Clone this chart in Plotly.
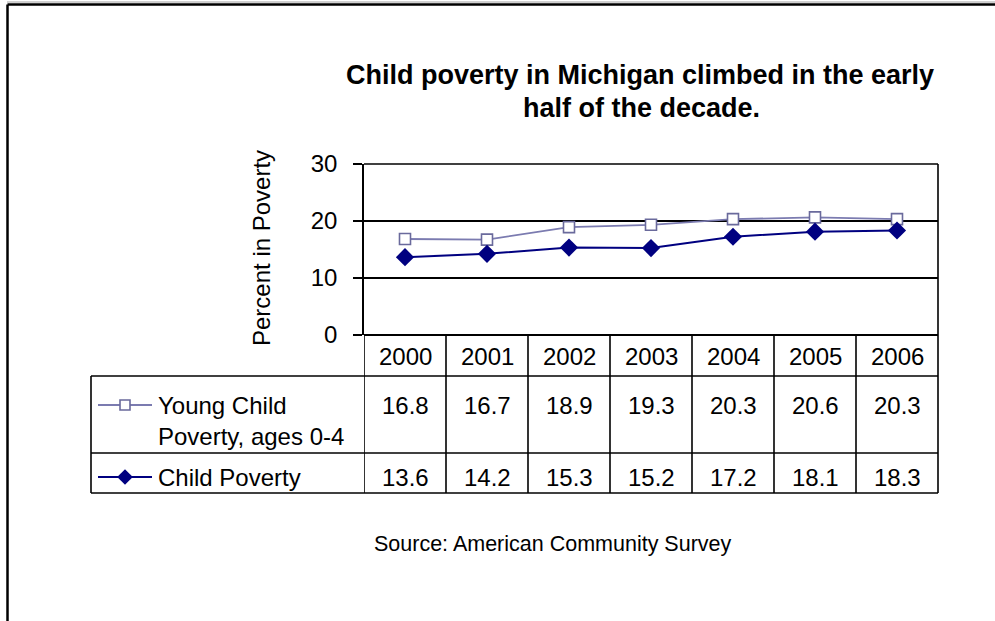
import plotly.graph_objects as go

years = ["2000", "2001", "2002", "2003", "2004", "2005", "2006"]
young_child = [16.8, 16.7, 18.9, 19.3, 20.3, 20.6, 20.3]
child = [13.6, 14.2, 15.3, 15.2, 17.2, 18.1, 18.3]
young_name = ["Young Child", "Poverty, ages 0-4"]
child_name = "Child Poverty"
title_lines = ["Child poverty in Michigan climbed in the early", "half of the decade."]
y_title = "Percent in Poverty"
source = "Source: American Community Survey"

W, H = 995, 621
FONT = "Arial, 'Liberation Sans', sans-serif"


def X(px):
    return px / W


def Y(py):
    return 1 - py / H


idx = list(range(len(years)))

YOUNG_LINE = "#7b7bb0"
YOUNG_EDGE = "#6a6a9c"
NAVY = "#000080"

fig = go.Figure()
fig.add_trace(go.Scatter(
    x=idx, y=young_child, mode="lines+markers",
    line=dict(color=YOUNG_LINE, width=1.8),
    marker=dict(symbol="square", size=11, color="white",
                line=dict(color=YOUNG_EDGE, width=1.6)),
    showlegend=False, hoverinfo="skip"))
fig.add_trace(go.Scatter(
    x=idx, y=child, mode="lines+markers",
    line=dict(color=NAVY, width=2),
    marker=dict(symbol="diamond", size=14, color=NAVY),
    showlegend=False, hoverinfo="skip"))

# legend keys inside the data table (pixel-coordinate overlay axes)
fig.add_trace(go.Scatter(
    x=[98, 125, 152], y=[405, 405, 405], mode="lines",
    line=dict(color=YOUNG_LINE, width=1.8), xaxis="x2", yaxis="y2",
    showlegend=False, hoverinfo="skip"))
fig.add_trace(go.Scatter(
    x=[125], y=[405], mode="markers",
    marker=dict(symbol="square", size=10, color="white",
                line=dict(color=YOUNG_EDGE, width=1.6)),
    xaxis="x2", yaxis="y2", showlegend=False, hoverinfo="skip"))
fig.add_trace(go.Scatter(
    x=[98, 125, 152], y=[477, 477, 477], mode="lines",
    line=dict(color=NAVY, width=2), xaxis="x2", yaxis="y2",
    showlegend=False, hoverinfo="skip"))
fig.add_trace(go.Scatter(
    x=[125], y=[477], mode="markers",
    marker=dict(symbol="diamond", size=12, color=NAVY),
    xaxis="x2", yaxis="y2", showlegend=False, hoverinfo="skip"))

PLOT_L, PLOT_R = 364, 938
PLOT_T, PLOT_B = 164, 334.5
ROW0_B = 376
ROW1_B = 453
ROW2_B = 493
TABLE_L = 91

shapes = []
blk = dict(color="black", width=1.6)
# outer frame
shapes.append(dict(type="line", xref="paper", yref="paper", x0=X(7), x1=X(995),
                   y0=Y(2), y1=Y(2), line=dict(color="#a0a0a0", width=1)))
shapes.append(dict(type="line", xref="paper", yref="paper", x0=X(7.5), x1=X(995),
                   y0=Y(4.5), y1=Y(4.5), line=dict(color="black", width=2.5)))
shapes.append(dict(type="line", xref="paper", yref="paper", x0=X(7.5), x1=X(7.5),
                   y0=Y(4.5), y1=Y(621), line=dict(color="black", width=2.5)))
# top border of plot (30 line) and right edge of plot + table
shapes.append(dict(type="line", xref="paper", yref="paper", x0=X(PLOT_L), x1=X(PLOT_R),
                   y0=Y(PLOT_T), y1=Y(PLOT_T), line=blk))
shapes.append(dict(type="line", xref="paper", yref="paper", x0=X(PLOT_R), x1=X(PLOT_R),
                   y0=Y(PLOT_T), y1=Y(ROW2_B), line=blk))
# column separators
for i in range(len(years)):
    shapes.append(dict(type="line", xref="x", yref="paper", x0=i - 0.5, x1=i - 0.5,
                       y0=Y(PLOT_B), y1=Y(ROW2_B), line=blk))
# horizontal table lines
for py in (ROW0_B, ROW1_B, ROW2_B):
    shapes.append(dict(type="line", xref="paper", yref="paper", x0=X(TABLE_L), x1=X(PLOT_R),
                       y0=Y(py), y1=Y(py), line=blk))
# table left edge
shapes.append(dict(type="line", xref="paper", yref="paper", x0=X(TABLE_L), x1=X(TABLE_L),
                   y0=Y(ROW0_B), y1=Y(ROW2_B), line=blk))

ann = []
tfont = dict(family=FONT, size=24, color="black")
ann.append(dict(text="<b>%s</b>" % title_lines[0], x=X(640), y=Y(75), xref="paper", yref="paper",
                showarrow=False, font=dict(family=FONT, size=27, color="black"),
                xanchor="center", yanchor="middle"))
ann.append(dict(text="<b>%s</b>" % title_lines[1], x=X(641), y=Y(108), xref="paper", yref="paper",
                showarrow=False, font=dict(family=FONT, size=27, color="black"),
                xanchor="center", yanchor="middle"))
ann.append(dict(text=y_title, x=X(261), y=Y(248), xref="paper", yref="paper", textangle=-90,
                showarrow=False, font=tfont, xanchor="center", yanchor="middle"))
for i, yr in enumerate(years):
    ann.append(dict(text=yr, x=i, y=Y(356), xref="x", yref="paper", showarrow=False,
                    font=tfont, xanchor="center", yanchor="middle"))
    ann.append(dict(text="%.1f" % young_child[i], x=i, y=Y(405), xref="x", yref="paper",
                    showarrow=False, font=tfont, xanchor="center", yanchor="middle"))
    ann.append(dict(text="%.1f" % child[i], x=i, y=Y(477), xref="x", yref="paper",
                    showarrow=False, font=tfont, xanchor="center", yanchor="middle"))
ann.append(dict(text=young_name[0], x=X(156), y=Y(405), xref="paper", yref="paper",
                showarrow=False, font=tfont, xanchor="left", yanchor="middle"))
ann.append(dict(text=young_name[1], x=X(156), y=Y(436), xref="paper", yref="paper",
                showarrow=False, font=tfont, xanchor="left", yanchor="middle"))
ann.append(dict(text=child_name, x=X(156), y=Y(477), xref="paper", yref="paper",
                showarrow=False, font=tfont, xanchor="left", yanchor="middle"))
ann.append(dict(text=source, x=X(553), y=Y(544), xref="paper", yref="paper",
                showarrow=False, font=dict(family=FONT, size=21.5, color="black"),
                xanchor="center", yanchor="middle"))

fig.update_layout(
    template="none",
    width=W, height=H, autosize=False,
    margin=dict(l=0, r=0, t=0, b=0, pad=0, autoexpand=False),
    paper_bgcolor="white", plot_bgcolor="rgba(0,0,0,0)",
    font=dict(family=FONT, color="black"),
    showlegend=False,
    xaxis=dict(domain=[X(PLOT_L), X(PLOT_R)], range=[-0.5, len(years) - 0.5],
               showticklabels=False, showgrid=False, zeroline=False, showline=False,
               ticks="", fixedrange=True, automargin=False),
    yaxis=dict(domain=[Y(PLOT_B), Y(PLOT_T)], range=[0, 30], tickvals=[0, 10, 20, 30],
               showgrid=True, gridcolor="black", gridwidth=1.6,
               zeroline=True, zerolinecolor="black", zerolinewidth=1.6,
               showline=True, linecolor="black", linewidth=1.6,
               ticks="outside", ticklen=9, tickcolor="black", tickwidth=1.6,
               ticklabelstandoff=11, tickfont=tfont, fixedrange=True, automargin=False),
    xaxis2=dict(domain=[0, 1], range=[0, W], visible=False, anchor="y2", fixedrange=True,
                automargin=False),
    yaxis2=dict(domain=[0, 1], range=[H, 0], visible=False, anchor="x2", fixedrange=True,
                automargin=False),
    shapes=shapes, annotations=ann,
)

fig.write_html("out.html")
